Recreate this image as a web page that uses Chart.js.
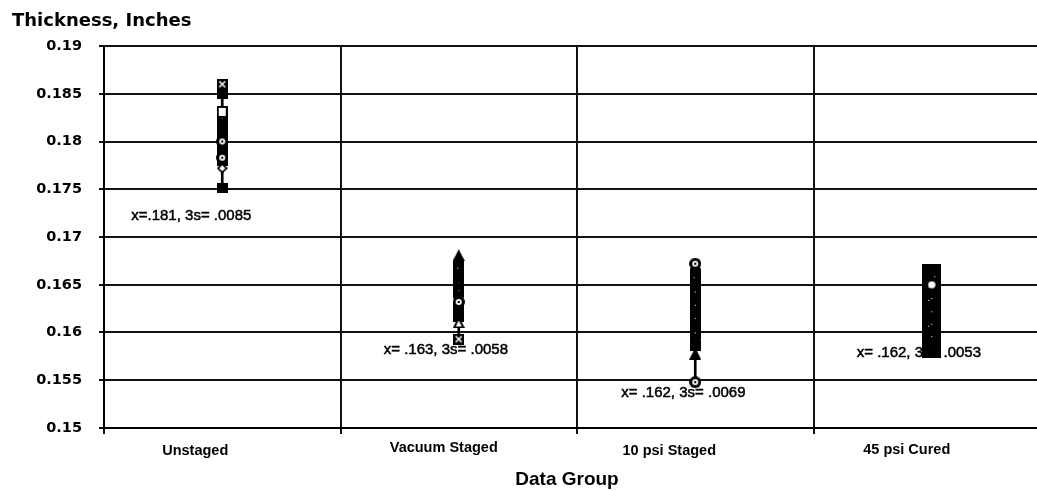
<!DOCTYPE html>
<html>
<head>
<meta charset="utf-8">
<script src="https://cdn.jsdelivr.net/npm/chart.js@4.4.1/dist/chart.umd.min.js"></script>
<style>
html,body{margin:0;padding:0;background:#fff;overflow:hidden;width:1037px;height:491px;}
#wrap{position:absolute;left:0;top:0;width:1056px;height:491px;}
</style>
</head>
<body>
<div id="wrap"><canvas id="c"></canvas></div>
<script>
// ---- data ----
const categories = ['Unstaged', 'Vacuum Staged', '10 psi Staged', '45 psi Cured'];
const yTickValues = [0.15, 0.155, 0.16, 0.165, 0.17, 0.175, 0.18, 0.185, 0.19];
const yTickLabels = ['0.15', '0.155', '0.16', '0.165', '0.17', '0.175', '0.18', '0.185', '0.19'];
const annotationTexts = ['x=.181, 3s= .0085', 'x= .163, 3s= .0058', 'x= .162, 3s= .0069', 'x= .162, 3s= .0053'];
const yTitle = 'Thickness, Inches';
const xTitle = 'Data Group';

// one value per data group for each specimen series
const s01 = [0.1860, 0.1593, 0.1548, 0.1655];
const s02 = [0.1850, 0.1681, 0.1655, 0.1645];
const s03 = [0.1751, 0.1666, 0.1651, 0.1640];
const s04 = [0.1825, 0.1662, 0.1646, 0.1636];
const s05 = [0.1822, 0.1660, 0.1641, 0.1632];
const s06 = [0.1818, 0.1658, 0.1636, 0.1627];
const s07 = [0.1814, 0.1654, 0.1632, 0.1622];
const s08 = [0.1812, 0.1650, 0.1627, 0.1618];
const s09 = [0.1810, 0.1646, 0.1622, 0.1614];
const s10 = [0.1806, 0.1644, 0.1618, 0.1610];
const s11 = [0.1798, 0.1642, 0.1613, 0.1605];
const s12 = [0.1796, 0.1638, 0.1608, 0.1600];
const s13 = [0.1793, 0.1628, 0.1603, 0.1596];
const s14 = [0.1790, 0.1624, 0.1598, 0.1592];
const s15 = [0.1787, 0.1620, 0.1592, 0.1588];
const s16 = [0.1780, 0.1616, 0.1586, 0.1584];
const s17 = [0.1772, 0.1670, 0.1660, 0.1660];
const s18 = [0.1783, 0.1674, 0.1665, 0.1665];
const s19 = [0.1800, 0.1632, 0.1672, 0.1580];
const s20 = [0.1831, 0.1611, 0.1578, 0.1650];
const series = [s01, s02, s03, s04, s05, s06, s07, s08, s09, s10,
                s11, s12, s13, s14, s15, s16, s17, s18, s19, s20];

// ---- marker images ----
function mk(w, h, draw) {
  const c = document.createElement('canvas');
  c.width = w; c.height = h;
  const g = c.getContext('2d');
  draw(g, w, h);
  return c;
}
function circ(g, x, y, r, col) { g.fillStyle = col; g.beginPath(); g.arc(x, y, r, 0, Math.PI * 2); g.fill(); }
function poly(g, pts, col) { g.fillStyle = col; g.beginPath(); g.moveTo(pts[0], pts[1]); for (let i = 2; i < pts.length; i += 2) g.lineTo(pts[i], pts[i + 1]); g.closePath(); g.fill(); }
function specks(g, w, h, pts) { g.fillStyle = '#fff'; pts.forEach(p => g.fillRect(p[0], p[1], 1, 1)); }
const M = {
  fsq: mk(11, 10, (g, w, h) => { g.fillStyle = '#000'; g.fillRect(0, 0, w, h); }),
  fsq2: mk(11, 10, (g, w, h) => { g.fillStyle = '#000'; g.fillRect(0, 0, w, h); specks(g, w, h, [[5, 3], [4, 7]]); }),
  bigsq: mk(19, 12, (g, w, h) => { g.fillStyle = '#000'; g.fillRect(0, 0, w, h); }),
  bigsq2: mk(19, 12, (g, w, h) => { g.fillStyle = '#000'; g.fillRect(0, 0, w, h); specks(g, w, h, [[6, 4], [12, 7], [9, 2]]); }),
  osq: mk(11, 12, (g) => { g.fillStyle = '#000'; g.fillRect(0, 0, 11, 12); g.fillStyle = '#fff'; g.fillRect(2, 2, 7, 8); }),
  xsq: mk(11, 11, (g) => {
    g.fillStyle = '#000'; g.fillRect(0, 0, 11, 11);
    g.strokeStyle = '#fff'; g.lineWidth = 1.5;
    g.beginPath(); g.moveTo(2.5, 2.5); g.lineTo(8.5, 8.5); g.moveTo(8.5, 2.5); g.lineTo(2.5, 8.5); g.stroke();
  }),
  cdot: mk(12, 12, (g) => { circ(g, 6, 6, 6, '#000'); circ(g, 6, 6, 3, '#fff'); circ(g, 6, 6, 1.2, '#000'); }),
  ftri: mk(12, 12, (g) => { poly(g, [6, 0, 12, 12, 0, 12], '#000'); }),
  otri: mk(12, 12, (g) => { poly(g, [6, 0, 12, 12, 0, 12], '#000'); poly(g, [6, 4.5, 9, 10.5, 3, 10.5], '#fff'); }),
  odia: mk(11, 11, (g) => { poly(g, [5.5, 0, 11, 5.5, 5.5, 11, 0, 5.5], '#000'); poly(g, [5.5, 2.5, 8.5, 5.5, 5.5, 8.5, 2.5, 5.5], '#fff'); }),
  fcirc: mk(11, 11, (g) => { circ(g, 5.5, 5.5, 5.5, '#000'); }),
  ocirc: mk(8, 8, (g) => { circ(g, 4, 4, 3.6, '#fff'); })
};
const specialMarkers = {
  '0-0': 'xsq', '0-1': 'xsq', '0-2': 'cdot',
  '1-0': 'fsq', '1-1': 'ftri', '2-0': 'fsq',
  '16-0': 'odia', '17-0': 'cdot', '18-0': 'cdot', '18-1': 'cdot', '18-2': 'cdot',
  '19-0': 'osq', '19-1': 'otri', '19-2': 'ftri', '19-3': 'ocirc'
};
const cycle = ['fsq', 'fsq2', 'fcirc'];
function markerFor(d, i) {
  const k = d + '-' + i;
  if (specialMarkers[k]) return M[specialMarkers[k]];
  if (i === 3) return d % 3 === 1 ? M.bigsq2 : M.bigsq;
  return M[cycle[d % cycle.length]];
}

// ---- datasets ----
const rangeData = categories.map((_, i) => {
  const vals = series.map(s => s[i]);
  return [Math.min(...vals), Math.max(...vals)];
});
const datasets = [{
  type: 'bar', data: rangeData, backgroundColor: '#000', borderWidth: 0,
  barThickness: 2, order: 100
}];
series.forEach((vals, d) => {
  datasets.push({
    type: 'line', data: vals, showLine: false,
    pointStyle: (ctx) => markerFor(d, ctx.dataIndex),
    pointRadius: 5, pointHoverRadius: 5, order: series.length - d
  });
});

// ---- text plugin ----
const textPlugin = {
  id: 'texts',
  afterDraw(chart) {
    const ctx = chart.ctx, xs = chart.scales.x, ys = chart.scales.y;
    ctx.save();
    ctx.fillStyle = '#000';
    ctx.strokeStyle = '#000';
    ctx.textBaseline = 'alphabetic';
    // y title
    ctx.textAlign = 'left';
    ctx.font = 'bold 18px "DejaVu Sans"';
    ctx.fillText(yTitle, 12, 26);
    // category labels
    const lblDx = [-27, -15, -26, -25];
    const lblDy = [0, -3, 0, -1];
    ctx.textAlign = 'center';
    ctx.font = 'bold 14.5px "Liberation Sans"';
    categories.forEach((c, i) => ctx.fillText(c, xs.getPixelForValue(i) + lblDx[i], 455 + lblDy[i]));
    // x title
    ctx.font = 'bold 19px "Liberation Sans"';
    ctx.fillText(xTitle, 567, 485);
    // annotations
    const annDx = [-91, -75, -74, -75];
    const annY = [0.1718, 0.1577, 0.1532, 0.1574];
    ctx.textAlign = 'left';
    ctx.font = '15px "Liberation Sans"';
    ctx.lineWidth = 0.5;
    annotationTexts.forEach((t, i) => {
      const x = xs.getPixelForValue(i) + annDx[i], y = ys.getPixelForValue(annY[i]);
      ctx.fillText(t, x, y);
      ctx.strokeText(t, x, y);
    });
    ctx.restore();
  }
};

new Chart(document.getElementById('c'), {
  data: { labels: categories, datasets },
  options: {
    responsive: true, maintainAspectRatio: false, animation: false,
    layout: { padding: { left: 0, right: 4, top: 46, bottom: 0 } },
    plugins: { legend: { display: false }, tooltip: { enabled: false }, title: { display: false } },
    scales: {
      x: {
        type: 'category', offset: true,
        afterFit: (s) => { s.height = 63; },
        ticks: { display: false },
        grid: { offset: true, color: '#111', lineWidth: 2, tickLength: 6, drawTicks: true },
        border: { display: true, color: '#000', width: 2 }
      },
      y: {
        min: 0.15, max: 0.19,
        afterBuildTicks: (s) => { s.ticks = yTickValues.map(v => ({ value: v })); },
        afterFit: (s) => { s.width = 104; },
        ticks: {
          callback: (v, i) => yTickLabels[i],
          font: { family: 'DejaVu Sans', size: 14.5, weight: 'bold' },
          color: '#000', padding: 17
        },
        grid: { color: '#111', lineWidth: 2, tickLength: 5, drawTicks: true },
        border: { display: true, color: '#000', width: 2 }
      }
    }
  },
  plugins: [textPlugin]
});
</script>
</body>
</html>
